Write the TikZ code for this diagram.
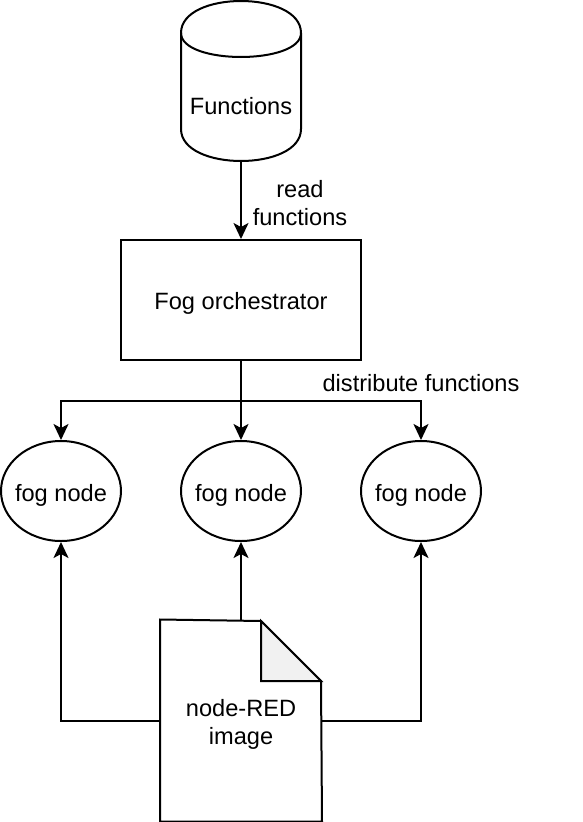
\documentclass[tikz,border=0pt]{standalone}
\usepackage{fontspec}
\setmainfont{Liberation Sans}
\usetikzlibrary{arrows.meta,shapes.geometric}
\definecolor{foldgray}{RGB}{241,241,241}
\begin{document}
\begin{tikzpicture}[x=1pt,y=-1pt,line width=2pt,
  arr/.style={-{Stealth[length=16pt,width=15pt,inset=4pt]}},
  bigfont/.style={font=\fontsize{23.6}{28}\selectfont},
  txt/.style={bigfont,align=center,inner sep=0pt},
  fognode/.style={draw,ellipse,minimum width=120pt,minimum height=100pt,inner sep=0pt},
  orchbox/.style={draw,rectangle,minimum width=240pt,minimum height=120pt,inner sep=0pt,bigfont,text height=19pt,text depth=0pt},
  docbox/.style={rectangle,minimum width=160pt,minimum height=200pt,inner sep=0pt}]
\useasboundingbox (0,0) rectangle (582,822);
% cylinder
\draw (181,33) .. controls (181,-9.67) and (301,-9.67) .. (301,33) -- (301,129)
  .. controls (301,171.67) and (181,171.67) .. (181,129) -- cycle;
\draw (181,33) .. controls (181,65) and (301,65) .. (301,33);
\node[txt] (cyl) at (241,106) {Functions};
\coordinate (cylbot) at (241,161);
% orchestrator
\node[orchbox] (orch) at (241,300) {Fog orchestrator};
% fog nodes
\node[fognode] (fogL) at (61,491) {};
\node[fognode] (fogM) at (241,491) {};
\node[fognode] (fogR) at (421,491) {};
\node[txt] (fogLt) at (61,495) {fog node};
\node[txt] (fogMt) at (241,495) {fog node};
\node[txt] (fogRt) at (421,495) {fog node};
% document
\node[docbox] (doc) at (241,720.5) {};
\draw (doc.north west) -- (261,621) -- (321,681) -- (doc.south east) -- (doc.south west) -- cycle;
\draw[fill=foldgray,line join=miter] (261,621) -- (261,681) -- (321,681) -- cycle;
\node[txt] (doct) at (241,724.5) {node-RED\\image};
% connectors
\draw[arr] (cylbot) -- (orch.north);
\node[txt] (readlbl) at (300,203) {read\\functions};
\coordinate (split) at (241,401);
\draw (orch.south) -- (split);
\draw[arr] (split) -| (fogL.north);
\draw[arr] (split) -| (fogR.north);
\draw[arr] (split) -- (fogM.north);
\node[txt] (distlbl) at (421,383) {distribute functions};
\draw[arr] (doc.north) -- (fogM.south);
\draw[arr] (doc.west) -| (fogL.south);
\draw[arr] (doc.east) -| (fogR.south);
\end{tikzpicture}
\end{document}
